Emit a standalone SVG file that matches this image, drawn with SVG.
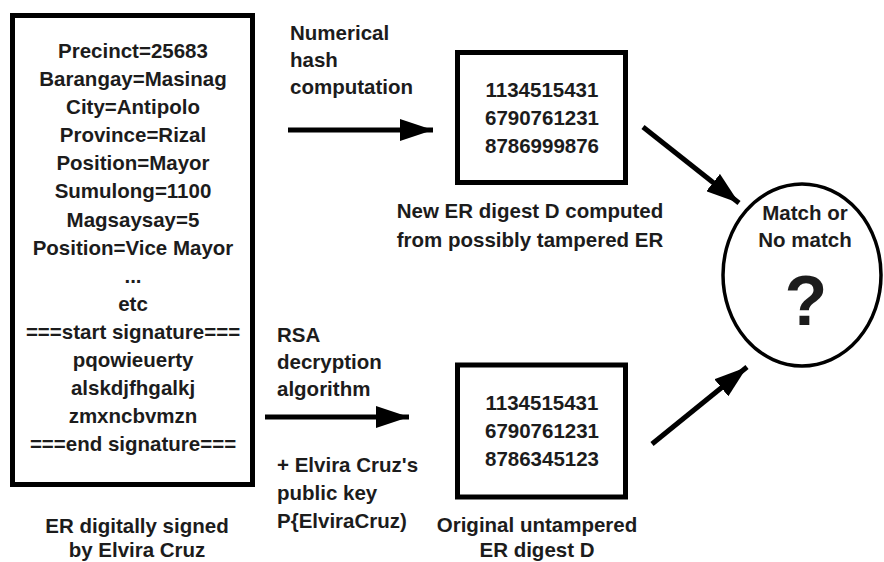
<svg xmlns="http://www.w3.org/2000/svg" width="884" height="562" viewBox="0 0 884 562">
<style>
text { font-family: "Liberation Sans", Arial, sans-serif; font-weight: bold; font-size: 20.5px; fill: #1c1c1c; }
.c { text-anchor: middle; }
.box { fill: #fff; stroke: #000; stroke-width: 5; }
.conn { stroke: #000; stroke-width: 5; fill: none; }
</style>
<defs>
<marker id="ah" viewBox="0 0 33 22" refX="33" refY="11" markerWidth="33" markerHeight="22" markerUnits="userSpaceOnUse" orient="auto">
<path d="M0,0 L33,11 L0,22 z" fill="#000"/>
</marker>
</defs>
<rect width="884" height="562" fill="#fff"/>
<g id="er-node">
<rect class="box" x="12.5" y="15.5" width="240" height="469"/>
<text class="c" x="133" y="58">Precinct=25683</text>
<text class="c" x="133" y="86">Barangay=Masinag</text>
<text class="c" x="133" y="114">City=Antipolo</text>
<text class="c" x="133" y="142">Province=Rizal</text>
<text class="c" x="133" y="170">Position=Mayor</text>
<text class="c" x="133" y="198">Sumulong=1100</text>
<text class="c" x="133" y="227">Magsaysay=5</text>
<text class="c" x="133" y="255">Position=Vice Mayor</text>
<text class="c" x="133" y="283">...</text>
<text class="c" x="133" y="311">etc</text>
<text class="c" x="133" y="339">===start signature===</text>
<text class="c" x="133" y="367">pqowieuerty</text>
<text class="c" x="133" y="395">alskdjfhgalkj</text>
<text class="c" x="133" y="423">zmxncbvmzn</text>
<text class="c" x="133" y="451">===end signature===</text>
<text class="c" x="137" y="533">ER digitally signed</text>
<text class="c" x="137" y="557">by Elvira Cruz</text>
</g>
<g id="new-digest">
<rect class="box" x="457.5" y="52.5" width="168" height="130"/>
<text class="c" x="542" y="97">1134515431</text>
<text class="c" x="542" y="125">6790761231</text>
<text class="c" x="542" y="153">8786999876</text>
<text class="c" x="530" y="218">New ER digest D computed</text>
<text class="c" x="530" y="247">from possibly tampered ER</text>
</g>
<g id="orig-digest">
<rect class="box" x="457.5" y="365" width="168" height="132"/>
<text class="c" x="542" y="410">1134515431</text>
<text class="c" x="542" y="438">6790761231</text>
<text class="c" x="542" y="466">8786345123</text>
<text class="c" x="537" y="532">Original untampered</text>
<text class="c" x="537" y="557">ER digest D</text>
</g>
<g id="match">
<ellipse cx="802" cy="275" rx="79" ry="91" fill="#fff" stroke="#000" stroke-width="3.5"/>
<text class="c" x="805" y="220">Match or</text>
<text class="c" x="805" y="247">No match</text>
<text class="c" x="806" y="325" style="font-size:70px">?</text>
</g>
<g id="labels">
<text x="290" y="40">Numerical</text>
<text x="290" y="67">hash</text>
<text x="290" y="94">computation</text>
<text x="277" y="342">RSA</text>
<text x="277" y="369">decryption</text>
<text x="277" y="396">algorithm</text>
<text x="277" y="472">+ Elvira Cruz's</text>
<text x="277" y="500">public key</text>
<text x="277" y="528">P{ElviraCruz)</text>
</g>
<g id="connectors">
<path class="conn" d="M288,130 L433,130" marker-end="url(#ah)"/>
<path class="conn" d="M265,417 L409,417" marker-end="url(#ah)"/>
<path class="conn" d="M643,127 L739,203" marker-end="url(#ah)"/>
<path class="conn" d="M652,444 L747,367" marker-end="url(#ah)"/>
</g>
</svg>
